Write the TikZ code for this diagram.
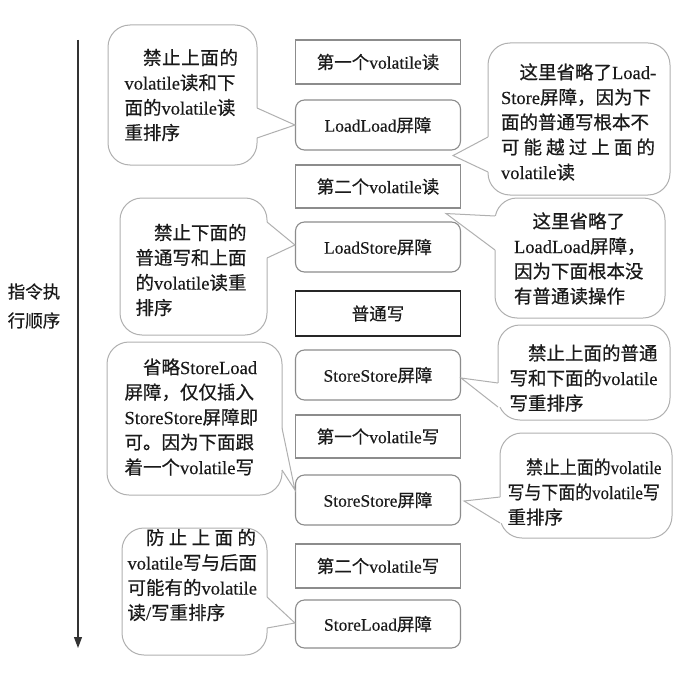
\documentclass[tikz,border=0pt]{standalone}
\usepackage{fontspec}
\setmainfont{Noto Sans CJK SC}[FakeBold=0.5]
\newfontfamily\latfont{Liberation Serif}[FakeBold=0.3]
\newcommand\la[1]{{\latfont #1}}
\usetikzlibrary{arrows.meta}
\definecolor{cgray}{HTML}{B0B0B0}
\definecolor{bgray}{HTML}{8C8C8C}
\definecolor{tcol}{HTML}{1A1A1A}
\newcommand\calloutptr[4]{%
  \fill[white] (#1) -- (#2) -- (#3) -- ([xshift=#4]#3) -- ([xshift=#4]#1) -- cycle;
  \draw[wline] (#1) -- (#2) -- (#3);}
\begin{document}
\begin{tikzpicture}[x=1pt,y=-1pt,
  every node/.style={text=tcol},
  callout/.style={draw=cgray, line width=1pt, fill=white, rounded corners=22pt, inner sep=0pt},
  ctext/.style={align=left, inner sep=0pt, font=\fontsize{18.5}{25}\selectfont},
  wline/.style={draw=cgray, line width=1pt, line join=miter},
  sqbox/.style={draw=bgray, line width=1.1pt, fill=white, minimum width=165pt, inner sep=0pt, font=\fontsize{17.5}{20}\selectfont},
  rbox/.style={sqbox, rounded corners=9pt},
  arrowline/.style={draw=black!80, line width=1.1pt, -{Triangle[width=8pt,length=11pt]}}
  ]
\useasboundingbox[fill=white] (0,0) rectangle (700,679);

% order arrow
\coordinate (atop) at (78,40);
\coordinate (abot) at (78,648);
\draw[arrowline] (atop) -- (abot);
\node[font=\fontsize{17.5}{29}\selectfont, align=center, inner sep=0pt] (lab) at (34,306) {指令执\\行顺序};

% callout frames
\node[callout, minimum width=149pt, minimum height=140pt] (L1) at (182.5,95) {};
\node[callout, minimum width=182pt, minimum height=152pt] (R1) at (579,119) {};
\node[callout, minimum width=170pt, minimum height=120pt] (R2) at (580,258) {};
\node[callout, minimum width=147pt, minimum height=137pt] (L2) at (193.5,266.5) {};
\node[callout, minimum width=175pt, minimum height=153pt] (L3) at (194.5,418.5) {};
\node[callout, minimum width=172pt, minimum height=95pt] (R3) at (584,372.5) {};
\node[callout, minimum width=172pt, minimum height=105pt] (R4) at (586,485.5) {};
\node[callout, minimum width=145pt, minimum height=127pt] (L4) at (194.5,591.5) {};

% instruction boxes
\node[sqbox, minimum height=44pt] (B1) at (378,62) {第一个\la{volatile}读};
\node[rbox, minimum height=50pt] (B2) at (378,125) {\la{LoadLoad}屏障};
\node[sqbox, minimum height=43pt] (B3) at (378,186.5) {第二个\la{volatile}读};
\node[rbox, minimum height=50pt] (B4) at (378,247) {\la{LoadStore}屏障};
\node[sqbox, draw=black!85, minimum height=45pt] (B5) at (378,313.5) {普通写};
\node[rbox, minimum height=50pt] (B6) at (378,375) {\la{StoreStore}屏障};
\node[sqbox, minimum height=43pt] (B7) at (378,436.5) {第一个\la{volatile}写};
\node[rbox, minimum height=50pt] (B8) at (378,500) {\la{StoreStore}屏障};
\node[sqbox, minimum height=44pt] (B9) at (378,566) {第二个\la{volatile}写};
\node[rbox, minimum height=48pt] (B10) at (378,624) {\la{StoreLoad}屏障};

% pointer base points
\coordinate (L1a) at (257,108); \coordinate (L1b) at (257,138);
\coordinate (R1a) at (488,137); \coordinate (R1b) at (488,172);
\coordinate (R2a) at (495,216); \coordinate (R2b) at (495,250);
\coordinate (L2a) at (267,222); \coordinate (L2b) at (267,258);
\coordinate (L3a) at (282,428); \coordinate (L3b) at (282,470);
\coordinate (R3a) at (498,383); \coordinate (R3b) at (498,407);
\coordinate (R4a) at (500,497); \coordinate (R4b) at (500,523);
\coordinate (L4a) at (267,597); \coordinate (L4b) at (267,628);

\calloutptr{L1a}{B2.west}{L1b}{-3pt}
\calloutptr{R1a}{[xshift=-8pt,yshift=-5pt]B2.south east}{R1b}{3pt}
\calloutptr{R2a}{[xshift=-15pt,yshift=-5pt]B3.south east}{R2b}{3pt}
\calloutptr{L2a}{[yshift=2pt]B4.west}{L2b}{-3pt}
\calloutptr{L3a}{[yshift=10pt]B8.west}{L3b}{-3pt}
\calloutptr{R3a}{[yshift=-3pt]B6.east}{R3b}{3pt}
\calloutptr{R4a}{[xshift=3pt,yshift=-1pt]B8.east}{R4b}{3pt}
\calloutptr{L4a}{[yshift=1pt]B10.west}{L4b}{-3pt}

% callout texts
\node[ctext, text width=116pt] (L1t) at (182.5,95) {\hspace*{1em}\makebox[95pt][s]{禁\hfill{}止\hfill{}上\hfill{}面\hfill{}的}\\\la{volatile}读和下\\面的\la{volatile}读\\重排序};
\node[ctext, text width=157pt] (R1t) at (579.5,122) {\hspace*{1em}这里省略了\la{Load-}\\\la{Store}屏障，因为下\\面的普通写根本不\\\makebox[154pt][s]{可\hfill{}能\hfill{}越\hfill{}过\hfill{}上\hfill{}面\hfill{}的}\\\la{volatile}读};
\node[ctext, text width=134pt] (R2t) at (581,258.5) {\hspace*{1em}这里省略了\\\la{LoadLoad}屏障，\\因为下面根本没\\有普通读操作};
\node[ctext, text width=113pt] (L2t) at (192,270) {\hspace*{1em}禁止下面的\\普通写和上面\\的\la{volatile}读重\\排序};
\node[ctext, text width=138pt] (L3t) at (193.5,417) {\hspace*{1em}省略\la{StoreLoad}\\屏障，仅仅插入\\\la{StoreStore}屏障即\\可。因为下面跟\\着一个\la{volatile}写};
\node[ctext, text width=149pt] (R3t) at (584,378) {\hspace*{1em}禁止上面的普通\\写和下面的\la{volatile}\\写重排序};
\node[ctext, text width=155pt] (R4t) at (585,492) {\hspace*{1em}\scalebox{0.915}[1]{禁止上面的\la{volatile}}\\\scalebox{0.915}[1]{写与下面的\la{volatile}写}\\重排序};
\node[ctext, text width=131pt] (L4t) at (193,575) {\hspace*{1em}\makebox[110pt][s]{防\hfill{}止\hfill{}上\hfill{}面\hfill{}的}\\\la{volatile}写与后面\\可能有的\la{volatile}\\读\la{/}写重排序};
\end{tikzpicture}
\end{document}
